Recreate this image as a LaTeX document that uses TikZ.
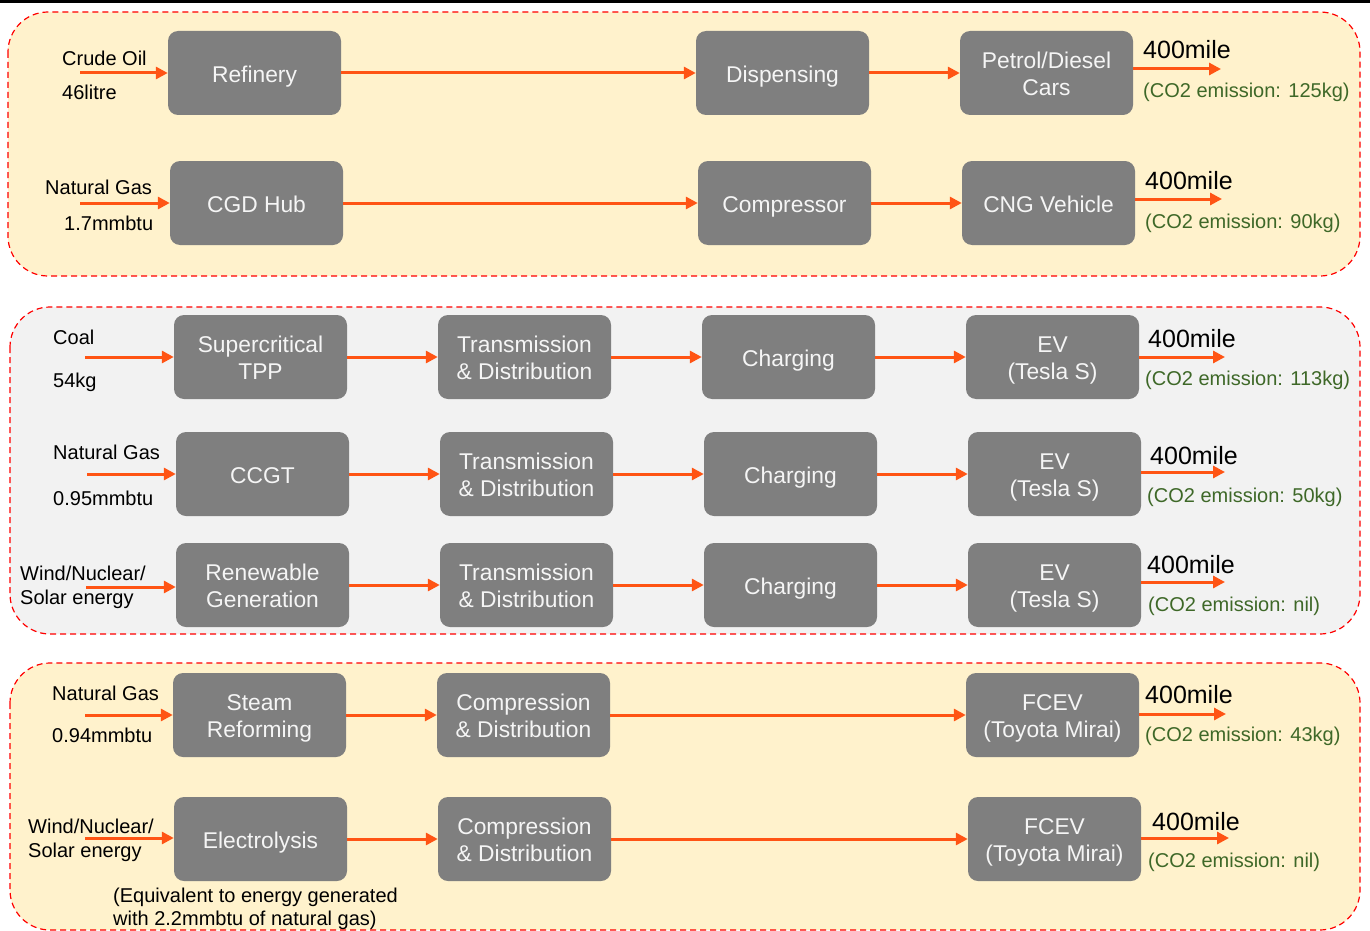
\documentclass[tikz,border=0pt]{standalone}
\usepackage{fontspec}
\setmainfont{Liberation Sans}
\usetikzlibrary{arrows.meta}
\definecolor{boxgrey}{RGB}{127,127,127}
\definecolor{boxtext}{RGB}{245,245,245}
\definecolor{flowred}{RGB}{255,84,20}
\definecolor{panelyellow}{RGB}{255,242,204}
\definecolor{panelgrey}{RGB}{242,242,242}
\definecolor{emitgreen}{RGB}{62,104,40}
% fixed line box so single and double lines sit centred like slide text
\newcommand\boxstrut{\vrule height 1.02em depth 0.22em width 0pt\relax}
% two-line box caption with struts on both lines
\newcommand\twolines[2]{\boxstrut #1\\\boxstrut #2}
\begin{document}
\lineskiplimit=-50pt
\begin{tikzpicture}[x=1pt,y=-1pt,
  panel/.style={draw=red, line width=1.2pt, dash pattern=on 6pt off 4pt, rounded corners=40pt},
  stepbox/.style={fill=boxgrey, rounded corners=10pt, minimum width=173pt, minimum height=84pt,
    inner sep=0pt, align=center, text=boxtext,
    font=\fontsize{22.8}{27}\selectfont,
    execute at begin node=\boxstrut, execute at end node=\boxstrut},
  lbl/.style={inner sep=0pt, anchor=base west, font=\fontsize{20}{24}\selectfont},
  lbltwo/.style={inner sep=0pt, anchor=west, align=left, font=\fontsize{20}{24}\selectfont},
  dist/.style={inner sep=0pt, anchor=base west, font=\fontsize{25}{30}\selectfont},
  emis/.style={inner sep=0pt, anchor=base west, text=emitgreen, font=\fontsize{20}{24}\selectfont},
  flow/.style={draw=flowred, line width=3pt, -{Triangle[length=12pt,width=12pt]}}]
\useasboundingbox (0,0) rectangle (1370,931);
\fill[white] (0,0) rectangle (1370,931);
\draw[line width=2.7pt] (0,1.3) -- (1370,1.3);

% ---------- panels ----------
\draw[panel, fill=panelyellow] (8,12) rectangle (1360,276);
\draw[panel, fill=panelgrey] (10,307) rectangle (1360,634);
\draw[panel, fill=panelyellow] (10,663) rectangle (1360,930);

% ---------- petrol / diesel ----------
\node[stepbox] (ref) at (254.5,73) {Refinery};
\node[stepbox] (disp) at (782.5,73) {Dispensing};
\node[stepbox] (car) at (1046.5,73) {\twolines{Petrol/Diesel}{Cars}};
\node[lbl] (oilname) at (62,66) {Crude Oil};
\node[lbl] (oilqty) at (62,100) {46litre};
\coordinate (in1) at (80,73);
\coordinate (out1) at (1221,69);
\node[dist] (d1) at (1143,59) {400mile};
\node[emis] (e1) at (1143,98) {(CO2 emission: 125kg)};
\draw[flow] (in1) -- (ref);
\draw[flow] (ref) -- (disp);
\draw[flow] (disp) -- (car);
\draw[flow] (car.east |- out1) -- (out1);

% ---------- CNG ----------
\node[stepbox] (cgd) at (256.5,203) {CGD Hub};
\node[stepbox] (comp) at (784.5,203) {Compressor};
\node[stepbox] (cng) at (1048.5,203) {CNG Vehicle};
\node[lbl] (gasname) at (45,194) {Natural Gas};
\node[lbl] (gasqty) at (64,230) {1.7mmbtu};
\coordinate (in2) at (80,203);
\coordinate (out2) at (1222,199);
\node[dist] (d2) at (1145,189) {400mile};
\node[emis] (e2) at (1145,228) {(CO2 emission: 90kg)};
\draw[flow] (in2) -- (cgd);
\draw[flow] (cgd) -- (comp);
\draw[flow] (comp) -- (cng);
\draw[flow] (cng.east |- out2) -- (out2);

% ---------- EV from coal ----------
\node[stepbox] (tpp) at (260.5,357) {\twolines{Supercritical}{TPP}};
\node[stepbox] (td3) at (524.5,357) {\twolines{Transmission}{\& Distribution}};
\node[stepbox] (ch3) at (788.5,357) {Charging};
\node[stepbox] (ev3) at (1052.5,357) {\twolines{EV}{(Tesla S)}};
\node[lbl] (coalname) at (53,344) {Coal};
\node[lbl] (coalqty) at (53,387) {54kg};
\coordinate (in3) at (85,357);
\coordinate (out3) at (1225,357);
\node[dist] (d3) at (1148,347) {400mile};
\node[emis] (e3) at (1145,385) {(CO2 emission: 113kg)};
\draw[flow] (in3) -- (tpp);
\draw[flow] (tpp) -- (td3);
\draw[flow] (td3) -- (ch3);
\draw[flow] (ch3) -- (ev3);
\draw[flow] (ev3.east |- out3) -- (out3);

% ---------- EV from natural gas ----------
\node[stepbox] (ccgt) at (262.5,474) {CCGT};
\node[stepbox] (td4) at (526.5,474) {\twolines{Transmission}{\& Distribution}};
\node[stepbox] (ch4) at (790.5,474) {Charging};
\node[stepbox] (ev4) at (1054.5,474) {\twolines{EV}{(Tesla S)}};
\node[lbl] (ngname4) at (53,459) {Natural Gas};
\node[lbl] (ngqty4) at (53,505) {0.95mmbtu};
\coordinate (in4) at (87,474);
\coordinate (out4) at (1225,472);
\node[dist] (d4) at (1150,464) {400mile};
\node[emis] (e4) at (1147,502) {(CO2 emission: 50kg)};
\draw[flow] (in4) -- (ccgt);
\draw[flow] (ccgt) -- (td4);
\draw[flow] (td4) -- (ch4);
\draw[flow] (ch4) -- (ev4);
\draw[flow] (ev4.east |- out4) -- (out4);

% ---------- EV from renewables ----------
\node[stepbox] (ren) at (262.5,585) {\twolines{Renewable}{Generation}};
\node[stepbox] (td5) at (526.5,585) {\twolines{Transmission}{\& Distribution}};
\node[stepbox] (ch5) at (790.5,585) {Charging};
\node[stepbox] (ev5) at (1054.5,585) {\twolines{EV}{(Tesla S)}};
\node[lbltwo] (src5) at (20,587) {Wind/Nuclear/\\Solar energy};
\coordinate (in5) at (86,587);
\coordinate (out5) at (1225,582);
\node[dist] (d5) at (1147,573) {400mile};
\node[emis] (e5) at (1148,611) {(CO2 emission: nil)};
\draw[flow] (in5) -- (ren.west |- in5);
\draw[flow] (ren) -- (td5);
\draw[flow] (td5) -- (ch5);
\draw[flow] (ch5) -- (ev5);
\draw[flow] (ev5.east |- out5) -- (out5);

% ---------- FCEV from steam reforming ----------
\node[stepbox] (smr) at (259.5,715) {\twolines{Steam}{Reforming}};
\node[stepbox] (cd6) at (523.5,715) {\twolines{Compression}{\& Distribution}};
\node[stepbox] (fc6) at (1052.5,715) {\twolines{FCEV}{(Toyota Mirai)}};
\node[lbl] (ngname6) at (52,700) {Natural Gas};
\node[lbl] (ngqty6) at (52,742) {0.94mmbtu};
\coordinate (in6) at (85,715);
\coordinate (out6) at (1226,714);
\node[dist] (d6) at (1145,703) {400mile};
\node[emis] (e6) at (1145,741) {(CO2 emission: 43kg)};
\draw[flow] (in6) -- (smr);
\draw[flow] (smr) -- (cd6);
\draw[flow] (cd6) -- (fc6);
\draw[flow] (fc6.east |- out6) -- (out6);

% ---------- FCEV from electrolysis ----------
\node[stepbox] (ely) at (260.5,839) {Electrolysis};
\node[stepbox] (cd7) at (524.5,839) {\twolines{Compression}{\& Distribution}};
\node[stepbox] (fc7) at (1054.5,839) {\twolines{FCEV}{(Toyota Mirai)}};
\node[lbltwo] (src7) at (28,840) {Wind/Nuclear/\\Solar energy};
\coordinate (in7) at (85,838);
\coordinate (out7) at (1229,838);
\node[dist] (d7) at (1152,830) {400mile};
\node[emis] (e7) at (1148,867) {(CO2 emission: nil)};
\node[inner sep=0pt, anchor=west, align=left, font=\fontsize{20}{23}\selectfont] (note7) at (113,909)
  {(Equivalent to energy generated\\with 2.2mmbtu of natural gas)};
\draw[flow] (in7) -- (ely.west |- in7);
\draw[flow] (ely) -- (cd7);
\draw[flow] (cd7) -- (fc7);
\draw[flow] (fc7.east |- out7) -- (out7);
\end{tikzpicture}
\end{document}
